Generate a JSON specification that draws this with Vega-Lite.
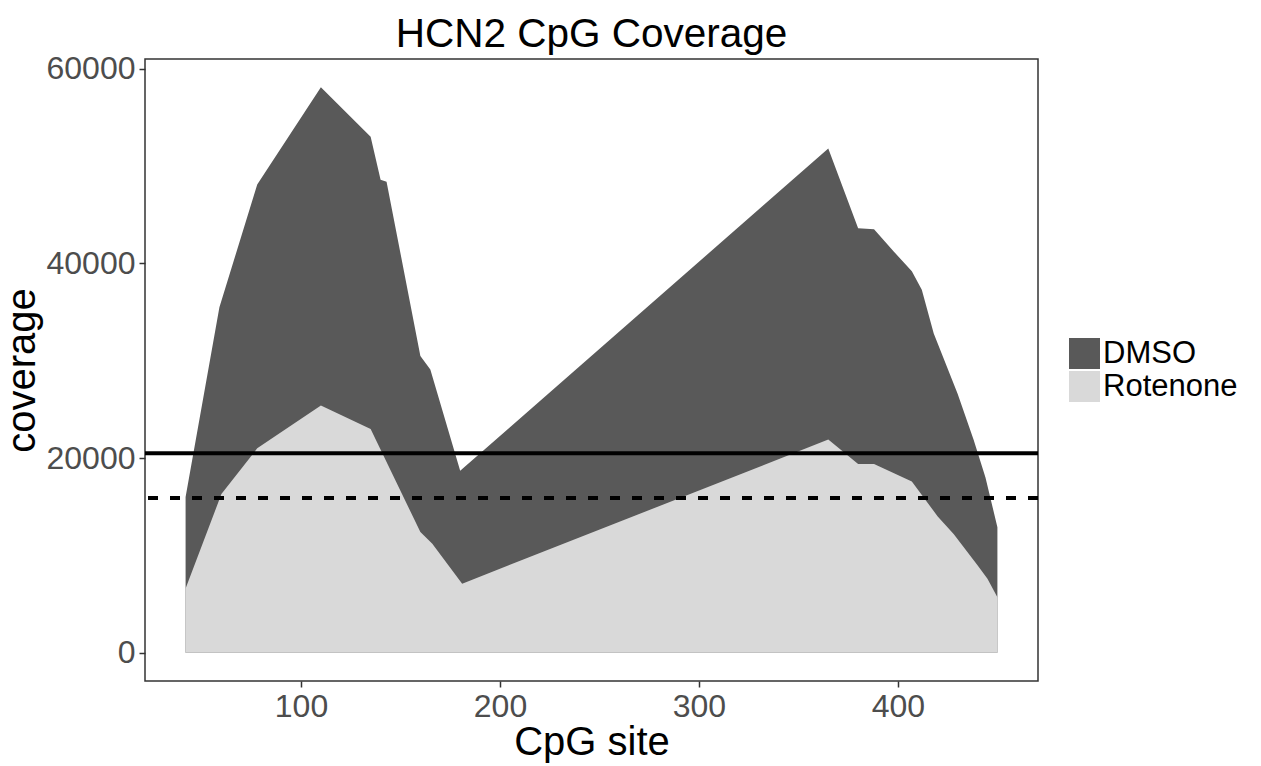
{
  "$schema": "https://vega.github.io/schema/vega-lite/v6.json",
  "width": 893,
  "height": 622,
  "autosize": {"type": "none"},
  "padding": {"left": 145, "top": 59, "right": 223, "bottom": 85},
  "background": "white",
  "title": {
    "text": "HCN2 CpG Coverage",
    "font": "Liberation Sans",
    "fontSize": 40.5,
    "fontWeight": "normal",
    "color": "black",
    "anchor": "middle",
    "offset": -3
  },
  "config": {
    "view": {"stroke": "#333333", "strokeWidth": 1.5},
    "axis": {
      "grid": false,
      "domain": false,
      "tickColor": "#333333",
      "tickWidth": 1.5,
      "tickSize": 6,
      "labelFont": "Liberation Sans",
      "labelFontSize": 32,
      "labelColor": "#4d4d4d",
      "labelPadding": 4,
      "titleFont": "Liberation Sans",
      "titleFontSize": 40,
      "titleFontWeight": "normal",
      "titleColor": "black"
    },
    "legend": {
      "labelFont": "Liberation Sans",
      "labelFontSize": 31,
      "labelColor": "black"
    }
  },
  "layer": [
    {
      "data": {
        "values": [
          {"site": 42, "coverage": 16000, "treatment": "DMSO"},
          {"site": 59, "coverage": 35500, "treatment": "DMSO"},
          {"site": 78, "coverage": 48100, "treatment": "DMSO"},
          {"site": 110, "coverage": 58100, "treatment": "DMSO"},
          {"site": 135, "coverage": 53000, "treatment": "DMSO"},
          {"site": 140, "coverage": 48600, "treatment": "DMSO"},
          {"site": 143, "coverage": 48400, "treatment": "DMSO"},
          {"site": 160, "coverage": 30500, "treatment": "DMSO"},
          {"site": 165, "coverage": 29100, "treatment": "DMSO"},
          {"site": 180, "coverage": 18700, "treatment": "DMSO"},
          {"site": 365, "coverage": 51800, "treatment": "DMSO"},
          {"site": 380, "coverage": 43600, "treatment": "DMSO"},
          {"site": 388, "coverage": 43500, "treatment": "DMSO"},
          {"site": 398, "coverage": 41200, "treatment": "DMSO"},
          {"site": 407, "coverage": 39200, "treatment": "DMSO"},
          {"site": 412, "coverage": 37300, "treatment": "DMSO"},
          {"site": 418, "coverage": 32800, "treatment": "DMSO"},
          {"site": 430, "coverage": 26600, "treatment": "DMSO"},
          {"site": 438, "coverage": 21900, "treatment": "DMSO"},
          {"site": 444, "coverage": 18000, "treatment": "DMSO"},
          {"site": 450, "coverage": 12900, "treatment": "DMSO"},
          {"site": 42, "coverage": 6600, "treatment": "Rotenone"},
          {"site": 60, "coverage": 16300, "treatment": "Rotenone"},
          {"site": 78, "coverage": 21000, "treatment": "Rotenone"},
          {"site": 110, "coverage": 25400, "treatment": "Rotenone"},
          {"site": 135, "coverage": 23000, "treatment": "Rotenone"},
          {"site": 160, "coverage": 12400, "treatment": "Rotenone"},
          {"site": 166, "coverage": 11200, "treatment": "Rotenone"},
          {"site": 181, "coverage": 7100, "treatment": "Rotenone"},
          {"site": 365, "coverage": 21900, "treatment": "Rotenone"},
          {"site": 380, "coverage": 19400, "treatment": "Rotenone"},
          {"site": 388, "coverage": 19400, "treatment": "Rotenone"},
          {"site": 407, "coverage": 17600, "treatment": "Rotenone"},
          {"site": 420, "coverage": 14000, "treatment": "Rotenone"},
          {"site": 428, "coverage": 12200, "treatment": "Rotenone"},
          {"site": 440, "coverage": 9000, "treatment": "Rotenone"},
          {"site": 445, "coverage": 7600, "treatment": "Rotenone"},
          {"site": 450, "coverage": 5700, "treatment": "Rotenone"}
        ]
      },
      "mark": {"type": "area", "interpolate": "linear"},
      "encoding": {
        "x": {
          "field": "site",
          "type": "quantitative",
          "scale": {"domain": [21.6, 470.4], "nice": false, "zero": false},
          "axis": {"values": [100, 200, 300, 400], "title": "CpG site", "titlePadding": 0}
        },
        "y": {
          "field": "coverage",
          "type": "quantitative",
          "stack": null,
          "scale": {"domain": [-2900, 61000], "nice": false, "zero": false},
          "axis": {"values": [0, 20000, 40000, 60000], "format": "d", "title": "coverage", "titlePadding": 4}
        },
        "color": {
          "field": "treatment",
          "type": "nominal",
          "scale": {"domain": ["DMSO", "Rotenone"], "range": ["#595959", "#d9d9d9"]},
          "legend": {
            "title": null,
            "orient": "none",
            "legendX": 924,
            "legendY": 279,
            "padding": 0,
            "symbolType": "square",
            "symbolSize": 961,
            "symbolStrokeWidth": 0,
            "symbolOpacity": 1,
            "rowPadding": 1,
            "labelOffset": 3
          }
        }
      }
    },
    {
      "data": {"values": [{"coverage": 20500}]},
      "mark": {"type": "rule", "color": "black", "strokeWidth": 4},
      "encoding": {"y": {"field": "coverage", "type": "quantitative"}}
    },
    {
      "data": {"values": [{"coverage": 15900}]},
      "mark": {"type": "rule", "color": "black", "strokeWidth": 4, "strokeDash": [10, 12]},
      "encoding": {"y": {"field": "coverage", "type": "quantitative"}}
    }
  ]
}
